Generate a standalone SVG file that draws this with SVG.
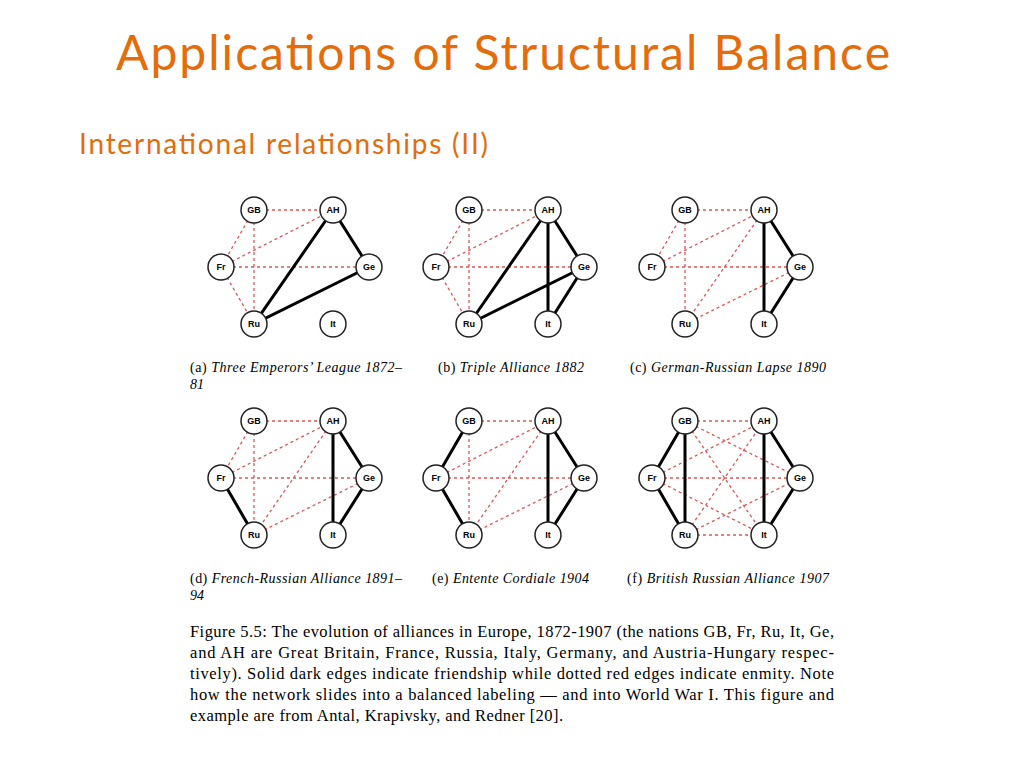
<svg xmlns="http://www.w3.org/2000/svg" xmlns:xlink="http://www.w3.org/1999/xlink" width="1024" height="768" viewBox="0 0 1024 768">
<style>
.t{font-family:Lato,"Open Sans",sans-serif;fill:#E46C0A}
.e{stroke:#e05555;stroke-width:1.3;stroke-dasharray:3,3;fill:none}
.f{stroke:#000;stroke-width:3;fill:none}
.n circle{fill:#fff;stroke:#222;stroke-width:1.5}
.n text{font-family:"Liberation Sans",Arial,sans-serif;font-size:9px;font-weight:bold;text-anchor:middle}
.c{font-family:"Liberation Serif","Times New Roman",serif;font-size:14px}
.cap{font-family:"Liberation Serif","Times New Roman",serif;font-size:16.5px}
</style>
<defs>
<g id="nodes" class="n">
<g><circle cx="254" cy="210" r="13"/><text x="254" y="213">GB</text></g>
<g><circle cx="333" cy="210" r="13"/><text x="333" y="213">AH</text></g>
<g><circle cx="221" cy="267" r="13"/><text x="221" y="270">Fr</text></g>
<g><circle cx="369" cy="267" r="13"/><text x="369" y="270">Ge</text></g>
<g><circle cx="254" cy="324" r="13"/><text x="254" y="327">Ru</text></g>
<g><circle cx="333" cy="324" r="13"/><text x="333" y="327">It</text></g>
</g>
</defs>
<rect width="1024" height="768" fill="#fff"/>
<text class="t" x="116" y="70" font-size="48" textLength="774">Applications of Structural Balance</text>
<text class="t" x="79" y="154" font-size="28" textLength="409">International relationships (II)</text>
<g id="connectors">
<g id="ea">
<path class="e" d="M254,210H333M254,210L221,267M254,210V324M221,267L333,210M221,267H369M221,267L254,324"/>
<path class="f" d="M333,210L254,324M333,210L369,267M369,267L254,324"/>
</g>
<g id="eb" transform="translate(215,0)">
<path class="e" d="M254,210H333M254,210L221,267M254,210V324M221,267L333,210M221,267H369M221,267L254,324"/>
<path class="f" d="M333,210L254,324M333,210V324M333,210L369,267M369,267L254,324M369,267L333,324"/>
</g>
<g id="ec" transform="translate(431,0)">
<path class="e" d="M254,210H333M254,210L221,267M254,210V324M221,267L333,210M221,267H369M333,210L254,324M369,267L254,324"/>
<path class="f" d="M333,210V324M333,210L369,267M369,267L333,324"/>
</g>
<g id="ed" transform="translate(0,211)">
<path class="e" d="M254,210H333M254,210L221,267M254,210V324M221,267L333,210M221,267H369M333,210L254,324M369,267L254,324"/>
<path class="f" d="M221,267L254,324M333,210V324M333,210L369,267M369,267L333,324"/>
</g>
<g id="ee" transform="translate(215,211)">
<path class="e" d="M254,210H333M254,210V324M221,267L333,210M221,267H369M333,210L254,324M369,267L254,324"/>
<path class="f" d="M254,210L221,267M221,267L254,324M333,210V324M333,210L369,267M369,267L333,324"/>
</g>
<g id="ef" transform="translate(431,211)">
<path class="e" d="M254,210H333M254,210L369,267M254,210L333,324M221,267L333,210M221,267H369M221,267L333,324M254,324L333,210M254,324L369,267M254,324H333"/>
<path class="f" d="M254,210L221,267M221,267L254,324M254,210V324M333,210V324M333,210L369,267M369,267L333,324"/>
</g>
</g>
<g id="panel-a"><use xlink:href="#nodes"/></g>
<g id="panel-b"><use xlink:href="#nodes" transform="translate(215,0)"/></g>
<g id="panel-c"><use xlink:href="#nodes" transform="translate(431,0)"/></g>
<g id="panel-d"><use xlink:href="#nodes" transform="translate(0,211)"/></g>
<g id="panel-e"><use xlink:href="#nodes" transform="translate(215,211)"/></g>
<g id="panel-f"><use xlink:href="#nodes" transform="translate(431,211)"/></g>
<g class="c">
<text x="190" y="372" textLength="212">(a) <tspan font-style="italic">Three Emperors’ League 1872–</tspan></text>
<text x="190" y="389" font-style="italic">81</text>
<text x="438" y="372" textLength="146">(b) <tspan font-style="italic">Triple Alliance 1882</tspan></text>
<text x="630" y="372" textLength="196">(c) <tspan font-style="italic">German-Russian Lapse 1890</tspan></text>
<text x="190" y="583" textLength="212">(d) <tspan font-style="italic">French-Russian Alliance 1891–</tspan></text>
<text x="190" y="600" font-style="italic">94</text>
<text x="432" y="583" textLength="157">(e) <tspan font-style="italic">Entente Cordiale 1904</tspan></text>
<text x="627" y="583" textLength="202">(f) <tspan font-style="italic">British Russian Alliance 1907</tspan></text>
</g>
<g class="cap">
<text x="190" y="637" textLength="644">Figure 5.5: The evolution of alliances in Europe, 1872-1907 (the nations GB, Fr, Ru, It, Ge,</text>
<text x="190" y="658" textLength="644">and AH are Great Britain, France, Russia, Italy, Germany, and Austria-Hungary respec-</text>
<text x="190" y="679" textLength="644">tively). Solid dark edges indicate friendship while dotted red edges indicate enmity. Note</text>
<text x="190" y="700" textLength="644">how the network slides into a balanced labeling — and into World War I. This figure and</text>
<text x="190" y="721" textLength="373">example are from Antal, Krapivsky, and Redner [20].</text>
</g>
</svg>
